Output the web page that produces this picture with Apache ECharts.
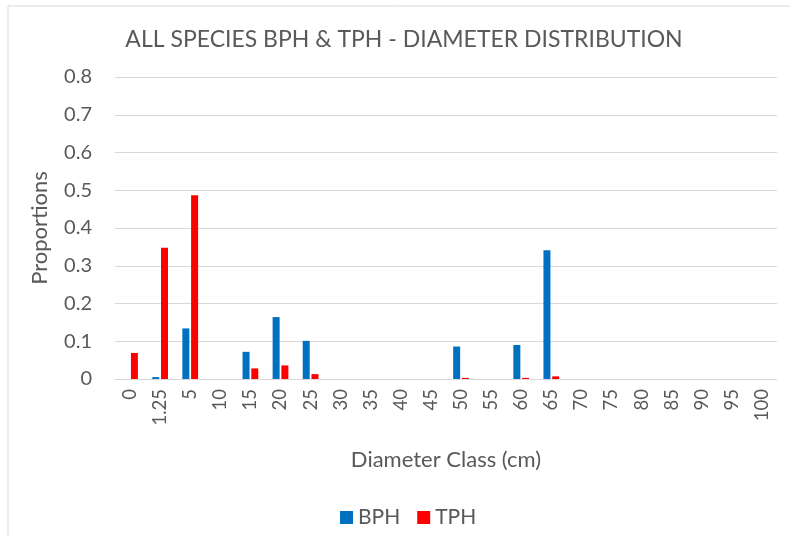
<!DOCTYPE html>
<html><head><meta charset="utf-8">
<script src="https://cdn.jsdelivr.net/npm/echarts@6/dist/echarts.min.js"></script>
<style>html,body{margin:0;padding:0;background:#fff}#c{width:790px;height:535px}</style>
</head><body><div id="c"></div>
<script>
const categories = ['0','1.25','5','10','15','20','25','30','35','40','45','50','55','60','65','70','75','80','85','90','95','100'];
const bph = [0,0.005,0.134,0,0.072,0.164,0.101,0,0,0,0,0.086,0,0.09,0.341,0,0,0,0,0,0,0];
const tph = [0.069,0.348,0.487,0,0.028,0.036,0.013,0,0,0,0,0.003,0,0.003,0.007,0,0,0,0,0,0,0];
const yTicks = [0,0.1,0.2,0.3,0.4,0.5,0.6,0.7,0.8];
</script>
<script>
const F = 'Lato, "Open Sans", sans-serif';
const chart = echarts.init(document.getElementById('c'));
chart.setOption({
  animation:false,
  backgroundColor:'#fff',
  graphic:[{type:'rect',shape:{x:8,y:6,width:800,height:540},style:{fill:'none',stroke:'#d9d9d9',lineWidth:1},silent:true}],
  title:{text:'ALL SPECIES BPH & TPH - DIAMETER DISTRIBUTION',left:399,top:23,textAlign:'center',
    textStyle:{fontFamily:F,fontSize:23,fontWeight:'normal',color:'#595959'}},
  legend:{data:['BPH','TPH'],left:335,top:502,itemWidth:13,itemHeight:13,itemGap:17,icon:'rect',
    textStyle:{fontFamily:F,fontSize:21,color:'#595959'}},
  grid:{left:115,right:13,top:77,bottom:156,containLabel:false},
  xAxis:{type:'category',data:categories,
    name:'Diameter Class (cm)',nameLocation:'middle',nameGap:70,
    nameTextStyle:{fontFamily:F,fontSize:22,color:'#595959'},
    axisLine:{lineStyle:{color:'#d9d9d9'}},axisTick:{show:false},
    axisLabel:{rotate:90,fontFamily:F,fontSize:18.5,color:'#595959',margin:10,interval:0}},
  yAxis:{type:'value',min:0,max:0.8,interval:0.1,
    name:'Proportions',nameLocation:'middle',nameGap:64,
    nameTextStyle:{fontFamily:F,fontSize:22,color:'#595959'},
    axisLine:{show:false},axisTick:{show:false},
    splitLine:{lineStyle:{color:'#d9d9d9'}},
    axisLabel:{fontFamily:F,fontSize:20,color:'#595959',margin:23,
      formatter:v=>{const t=yTicks.find(x=>Math.abs(x-v)<1e-9);return t===0?'0':String(t);}}},
  series:[
    {name:'BPH',type:'bar',data:bph,barWidth:7,barGap:'25%',itemStyle:{color:'#0070c0'}},
    {name:'TPH',type:'bar',data:tph,barWidth:7,itemStyle:{color:'#ff0000'}}
  ]
});
</script></body></html>
